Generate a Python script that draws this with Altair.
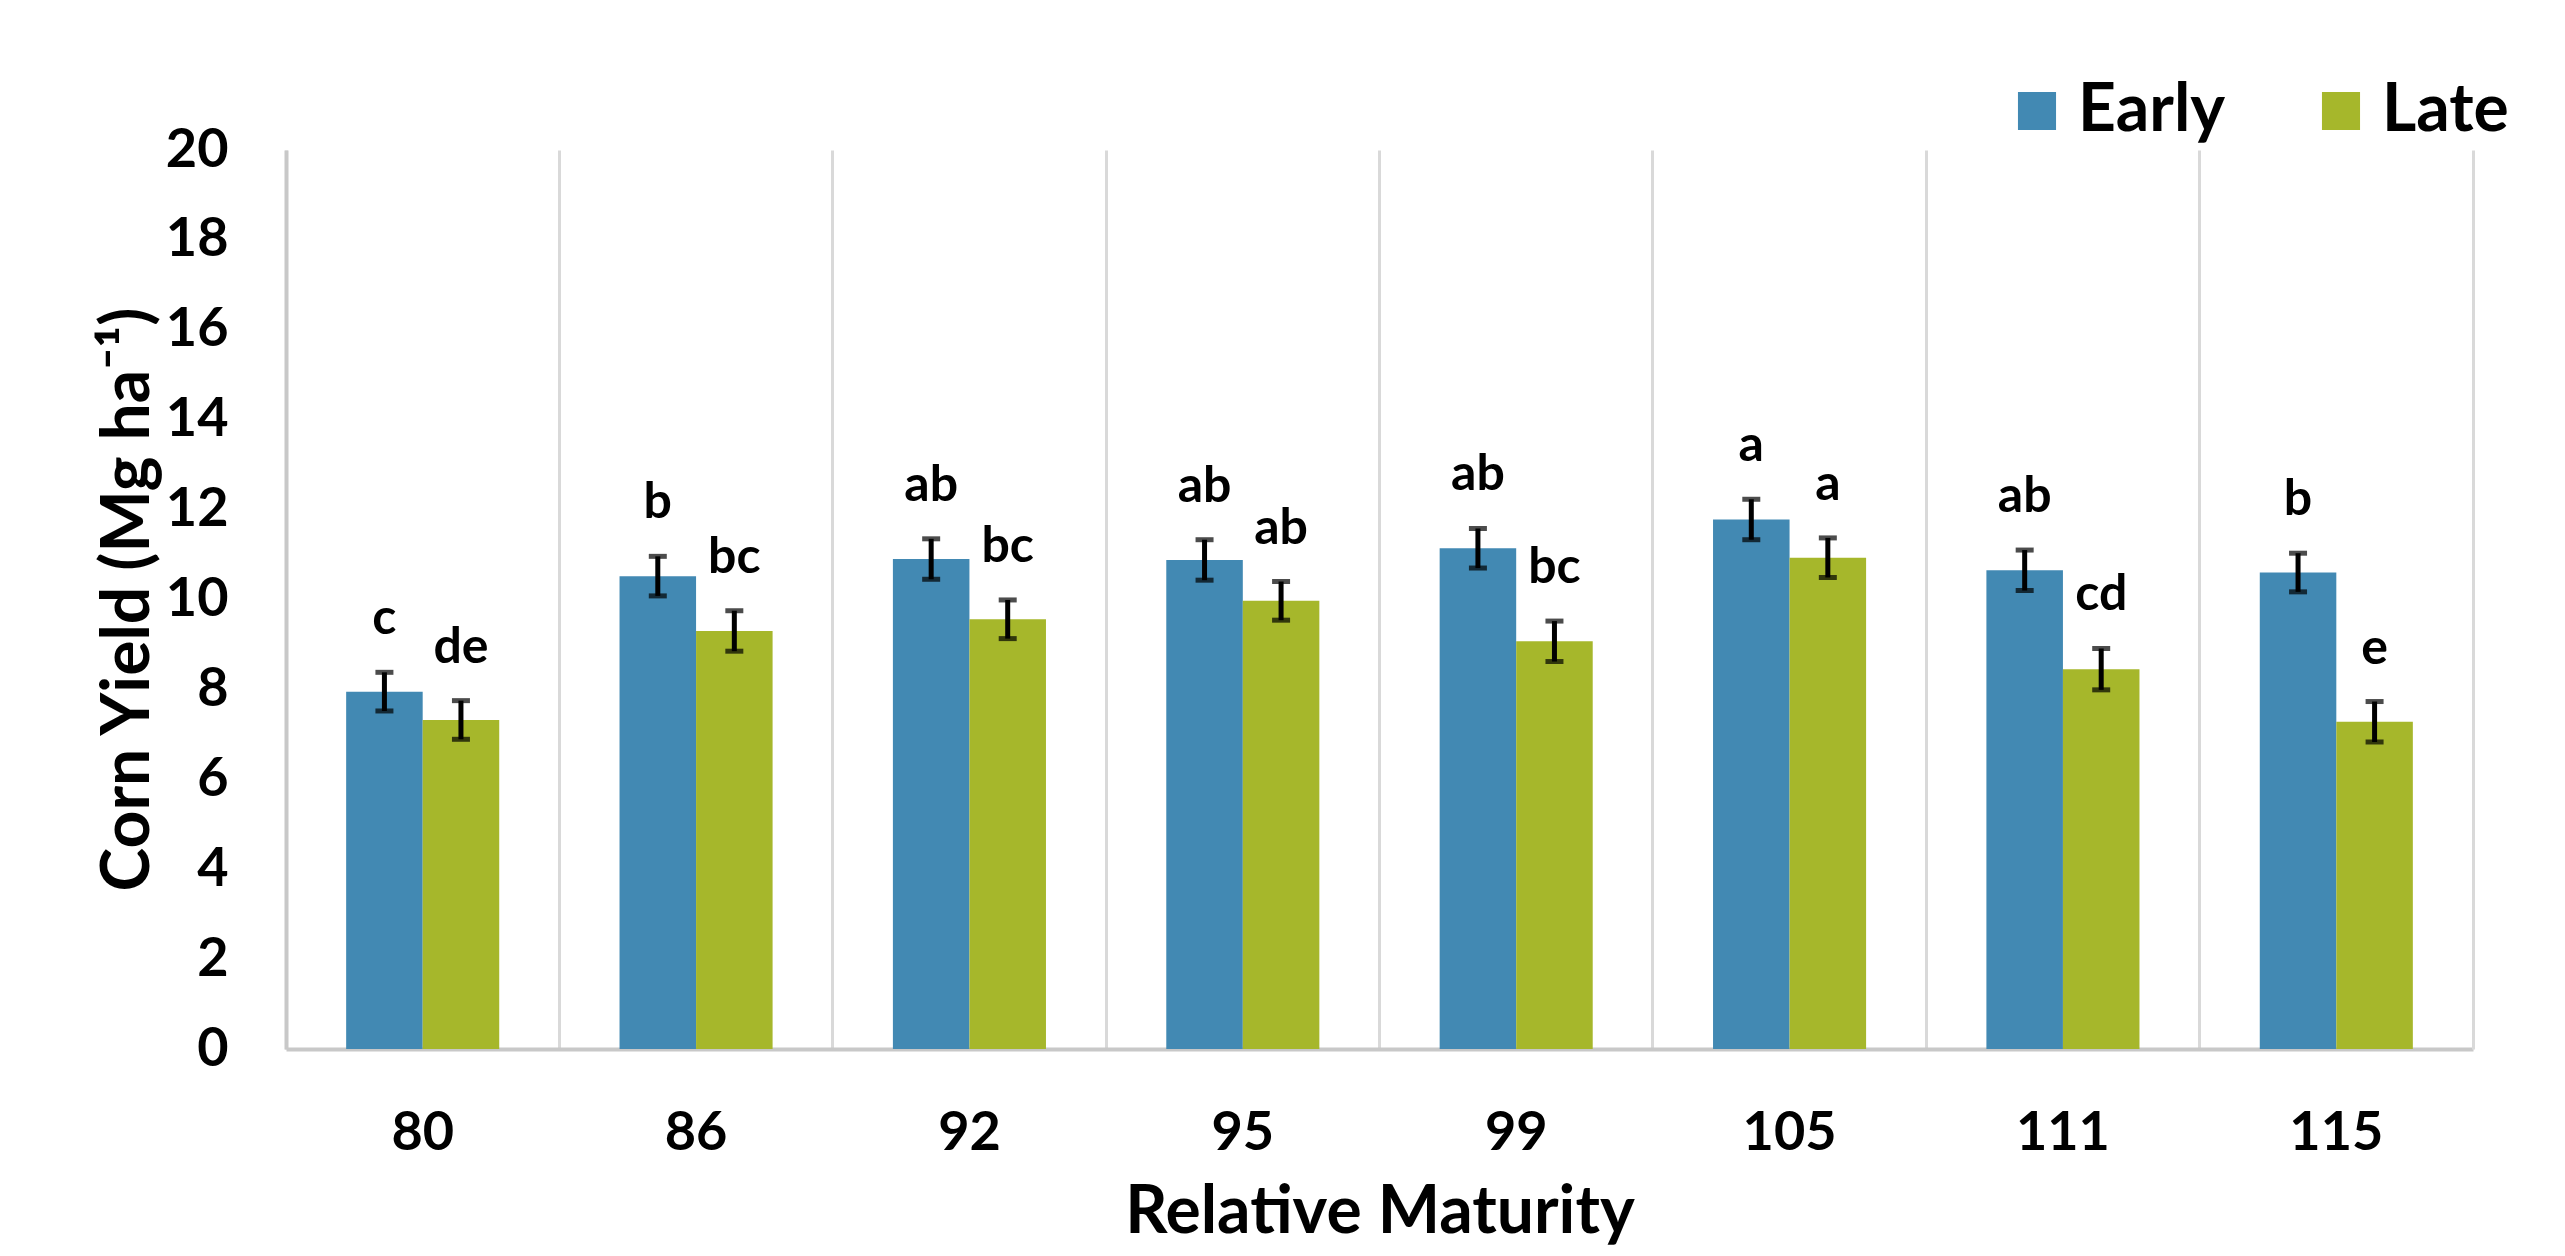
import altair as alt
import pandas as pd

rm = ["80", "86", "92", "95", "99", "105", "111", "115"]
early = [7.95, 10.52, 10.90, 10.88, 11.14, 11.78, 10.65, 10.60]
late = [7.32, 9.30, 9.56, 9.97, 9.07, 10.93, 8.45, 7.28]
early_err = [0.43, 0.44, 0.45, 0.45, 0.44, 0.45, 0.45, 0.43]
late_err = [0.43, 0.45, 0.43, 0.43, 0.45, 0.44, 0.46, 0.45]
early_letters = ["c", "b", "ab", "ab", "ab", "a", "ab", "b"]
late_letters = ["de", "bc", "bc", "ab", "bc", "a", "cd", "e"]
timings = ["Early", "Late"]
colors = ["#4289b3", "#a6b72b"]

rows = []
for i, r in enumerate(rm):
    rows.append({"RM": r, "Timing": "Early", "Yield": early[i], "Err": early_err[i], "Letter": early_letters[i]})
    rows.append({"RM": r, "Timing": "Late", "Yield": late[i], "Err": late_err[i], "Letter": late_letters[i]})
df = pd.DataFrame(rows)
df["lo"] = df["Yield"] - df["Err"]
df["hi"] = df["Yield"] + df["Err"]

GRID = "#d9d9d9"
AXISLINE = "#c8c8c8"
FONT = "Lato"

x_enc = alt.X(
    "RM:N", sort=rm,
    scale=alt.Scale(paddingInner=0, paddingOuter=0),
    axis=alt.Axis(
        title="Relative Maturity", labelAngle=0, ticks=False,
        grid=True, bandPosition=0, gridColor=GRID, gridWidth=3,
        domainColor=AXISLINE, domainWidth=4,
        labelFont=FONT, labelFontSize=54, labelFontWeight="bold", labelColor="black",
        labelPadding=57,
        titleFont=FONT, titleFontSize=66, titleFontWeight="bold", titleColor="black",
        titlePadding=20,
    ),
)
xo_enc = alt.XOffset("Timing:N", sort=timings, scale=alt.Scale(paddingInner=0, paddingOuter=0.786))

base = alt.Chart(df).encode(x=x_enc, xOffset=xo_enc)

bars = base.mark_bar().encode(
    y=alt.Y("Yield:Q", scale=alt.Scale(domain=[0, 20]),
            axis=alt.Axis(
                title="Corn Yield (Mg ha⁻¹)", values=list(range(0, 21, 2)), ticks=False, grid=False,
                domainColor=AXISLINE, domainWidth=4,
                labelFont=FONT, labelFontSize=54, labelFontWeight="bold", labelColor="black",
                labelPadding=58,
                titleFont=FONT, titleFontSize=66, titleFontWeight="bold", titleColor="black",
                titleX=-124, titleY=449, titleBaseline="bottom", titleAngle=270,
            )),
    color=alt.Color("Timing:N", sort=timings, scale=alt.Scale(domain=timings, range=colors),
                    legend=alt.Legend(
                        title=None, orient="none", legendX=1718, legendY=-72, direction="horizontal",
                        padding=0, symbolType="square", symbolSize=1450, symbolStrokeWidth=0,
                        labelFont=FONT, labelFontSize=66, labelFontWeight="bold", labelColor="black",
                        labelOffset=8, columnPadding=82,
                    )),
)

rules = base.mark_rule(color="black", strokeWidth=5).encode(
    y=alt.Y("lo:Q", scale=alt.Scale(domain=[0, 20]),
            axis=alt.Axis(orient="right", labels=False, ticks=False, title=None, grid=False,
                          domainColor=GRID, domainWidth=3)),
    y2="hi:Q",
)

caps_lo = base.mark_tick(color="black", thickness=5, size=18, orient="horizontal").encode(
    y=alt.Y("lo:Q", axis=None))
caps_hi = base.mark_tick(color="black", thickness=5, size=18, orient="horizontal").encode(
    y=alt.Y("hi:Q", axis=None))

labels = base.mark_text(font=FONT, fontSize=50, fontWeight="bold", color="black",
                        baseline="alphabetic", align="center", dy=-38).encode(
    y=alt.Y("hi:Q", axis=None), text="Letter:N")

chart = alt.layer(bars, rules, caps_lo, caps_hi, labels).resolve_axis(y="independent").properties(
    width=2187, height=899,
    autosize=alt.AutoSizeParams(type="none"),
    padding={"left": 278, "top": 142, "right": 70, "bottom": 196},
    background="white",
).configure_view(stroke=None)

chart.save("out.html", embed_options={"renderer": "svg", "actions": False})
